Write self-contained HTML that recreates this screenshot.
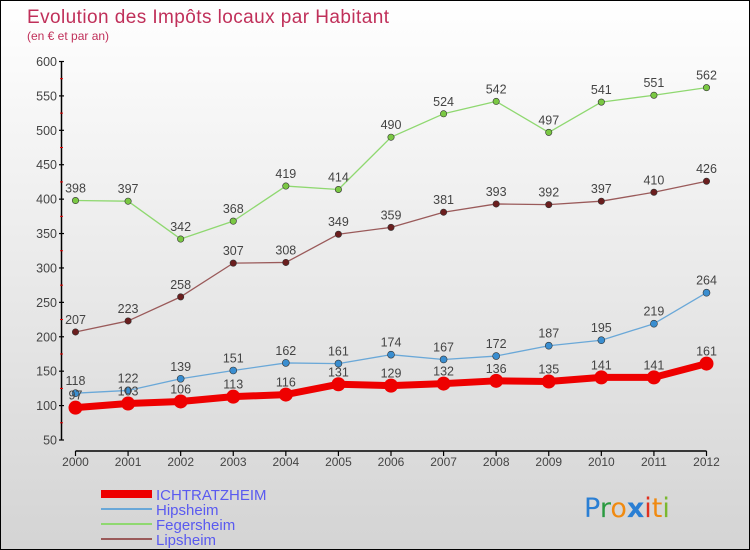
<!DOCTYPE html>
<html><head><meta charset="utf-8"><style>
body{margin:0}
#c{width:748px;height:548px;border:1px solid #000;background:linear-gradient(#fff,#d4d4d4);position:relative;overflow:hidden;font-family:"Liberation Sans",sans-serif}
</style></head><body>
<div id="c">
<svg id="s" width="748" height="548" xmlns="http://www.w3.org/2000/svg" style="position:absolute;left:0;top:0;font-family:'Liberation Sans',sans-serif">
<text x="26" y="22" font-size="19" fill="#c0305a" textLength="362">Evolution des Impôts locaux par Habitant</text>
<text x="26" y="39" font-size="12" fill="#c0305a">(en € et par an)</text>
<g id="ax"></g><g id="ser"></g><g id="leg"></g>
<g font-size="27" font-family="'DejaVu Sans',sans-serif">
<text x="583" y="516"><tspan fill="#2a7fd4">P</tspan><tspan fill="#2a9a40">r</tspan><tspan fill="#f08a10">o</tspan><tspan fill="#2a7fd4" font-weight="bold">x</tspan><tspan fill="#e03020">i</tspan><tspan fill="#f08a10">t</tspan><tspan fill="#7ab830">i</tspan></text>
</g>
</svg>
</div>
<script>
const years=[2000,2001,2002,2003,2004,2005,2006,2007,2008,2009,2010,2011,2012];
const yTicks=[50,100,150,200,250,300,350,400,450,500,550,600];
const ichtratzheim=[97,103,106,113,116,131,129,132,136,135,141,141,161];
const hipsheim=[118,122,139,151,162,161,174,167,172,187,195,219,264];
const fegersheim=[398,397,342,368,419,414,490,524,542,497,541,551,562];
const lipsheim=[207,223,258,307,308,349,359,381,393,392,397,410,426];
const NS="http://www.w3.org/2000/svg";
const X=i=>74.5+i*(705.5-74.5)/(years.length-1);
const Y=v=>439-(v-50)*(378.5/550);
function mk(p,t,a){const e=document.createElementNS(NS,t);for(const k in a)e.setAttribute(k,a[k]);p.appendChild(e);return e;}
const ax=document.getElementById('ax');
let l=mk(ax,'line',{x1:60.5,y1:Y(600),x2:60.5,y2:Y(50),stroke:'#000','stroke-width':1.5});


yTicks.forEach(v=>{
 mk(ax,'line',{x1:58,x2:63,y1:Y(v),y2:Y(v),stroke:'#000','stroke-width':1.2});
 if(v<600)mk(ax,'line',{x1:59,x2:62,y1:Y(v+25),y2:Y(v+25),stroke:'#e00','stroke-width':1});
 const t=mk(ax,'text',{x:56,y:Y(v)+4.5,'text-anchor':'end','font-size':12.5,fill:'#444'});t.textContent=v;
 
 
});
l=mk(ax,'line',{x1:X(0),x2:X(12),y1:450,y2:450,stroke:'#000','stroke-width':1.5});


years.forEach((y,i)=>{
 mk(ax,'line',{x1:X(i),x2:X(i),y1:450,y2:455,stroke:'#000','stroke-width':1.2});
 const t=mk(ax,'text',{x:X(i),y:465,'text-anchor':'middle','font-size':12,fill:'#444'});t.textContent=y;
 
 
});
const ser=document.getElementById('ser');
function draw(name,data,color,w,r,fill){
 const g=mk(ser,'g',{});
 
 
 mk(g,'polyline',{points:data.map((v,i)=>X(i)+','+Y(v)).join(' '),fill:'none',stroke:color,'stroke-width':w,'stroke-linejoin':'round'});
 data.forEach((v,i)=>{
  const c=mk(g,'circle',{cx:X(i),cy:Y(v),r:r,fill:fill,stroke:'#333','stroke-width':r>5?0:0.6});
  
  
  const t=mk(g,'text',{x:X(i),y:Y(v)-8,'text-anchor':'middle','font-size':12.5,fill:'#444'});t.textContent=v;
  
  
 });
}
draw('fegersheim',fegersheim,'#8fd870',1.3,3.2,'#7ac843');
draw('lipsheim',lipsheim,'#9a5a5a',1.3,3.2,'#6b1e1e');
draw('hipsheim',hipsheim,'#6aa8d8',1.3,3.5,'#3a8ed0');
draw('ichtratzheim',ichtratzheim,'#ee0000',7,7,'#ee0000');
const leg=document.getElementById('leg');
[['ICHTRATZHEIM','#ee0000',8],['Hipsheim','#6aa8d8',2],['Fegersheim','#8fd870',2],['Lipsheim','#9a5a5a',2]].forEach((e,i)=>{
 const y=493+i*15;
 const g=mk(leg,'g',{});
 
 
 mk(g,'line',{x1:100,x2:151,y1:y,y2:y,stroke:e[1],'stroke-width':e[2]});
 const t=mk(g,'text',{x:155,y:y+6,'font-size':15,fill:'#5a5af0'});t.textContent=e[0];
});
</script>
</body></html>
